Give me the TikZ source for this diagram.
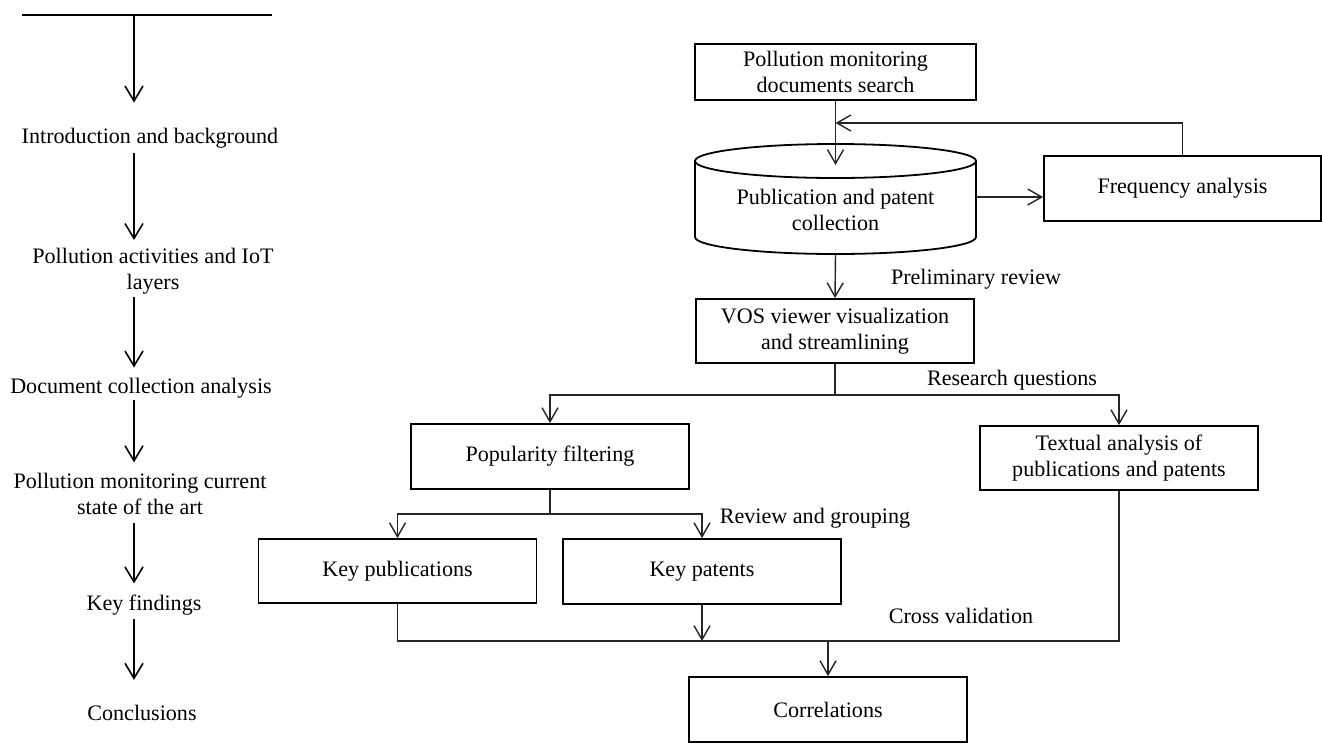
\documentclass[tikz,border=0pt]{standalone}
\usepackage{fontspec}
\setmainfont{Liberation Serif}
\usetikzlibrary{arrows.meta}
\begin{document}
\begin{tikzpicture}[x=0.5pt,y=-0.5pt,
  every node/.style={font=\fontsize{11.05pt}{13pt}\selectfont, inner sep=0pt},
  lbl/.style={align=center},
  stepbox/.style={draw, line width=0.9pt, minimum width=139pt, minimum height=32.5pt, align=center},
  conn/.style={line width=0.7pt, black!85},
  arr/.style={conn, -{Straight Barb[length=7pt,width=8pt]}},
  larr/.style={line width=0.8pt, -{Straight Barb[length=7.5pt,width=9pt]}}]
\fill[white] (0,0) rectangle (1322,745);
\useasboundingbox (0,0) rectangle (1322,745);

% ---- outline of the sections (left column) ----
\coordinate (tl) at (22,15);
\coordinate (tr) at (272,15);
\coordinate (top) at (134,15);
\coordinate (colx) at (134,0);
\draw[line width=0.8pt] (tl) -- (tr);
\node[lbl] (intro) at (150,138) {Introduction and background};
\node[lbl] (pact) at (153,271.5) {Pollution activities and IoT\\layers};
\node[lbl] (doc) at (141,388) {Document collection analysis};
\node[lbl] (pm) at (140,493.5) {Pollution monitoring current\\state of the art};
\node[lbl] (kf) at (144,605) {Key findings};
\node[lbl] (concl) at (142,713) {Conclusions};

\draw[larr, shorten >=12.5pt] (top) -- (intro.north -| colx);
\draw[larr, shorten <=2.5pt, shorten >=4pt] (intro.south -| colx) -- (pact.north -| colx);
\draw[larr, shorten <=1pt, shorten >=5pt] (pact.south -| colx) -- (doc.north -| colx);
\draw[larr, shorten <=1pt, shorten >=5pt] (doc.south -| colx) -- (pm.north -| colx);
\draw[larr, shorten <=4pt, shorten >=5.5pt] (pm.south -| colx) -- (kf.north -| colx);
\draw[larr, shorten <=1.5pt, shorten >=12.5pt] (kf.south -| colx) -- (concl.north -| colx);

% ---- methodology flow (right part) ----
\node[stepbox, minimum width=140.5pt, minimum height=28pt] (search) at (835.5,72) {Pollution monitoring\\documents search};

% collection drawn as a cylinder
\node[lbl, minimum width=140.5pt] (coll) at (835.5,210) {Publication and patent\\collection};
\coordinate (ctop) at (835.5,161);
\coordinate (cl) at (695,161);
\coordinate (cr) at (976,161);
\coordinate (cbl) at (695,237);
\coordinate (cbr) at (976,237);
\coordinate (cbot) at (835.5,254);
\coordinate (cin) at (835.5,165);
\coordinate (cout) at (976,197);
\draw[line width=0.9pt] (ctop) ellipse [x radius=70.25pt, y radius=8.5pt];
\draw[line width=0.9pt] (cl) -- (cbl) arc [start angle=180, end angle=360, x radius=70.25pt, y radius=8.5pt] -- (cr);

\node[stepbox, minimum width=138.5pt] (freq) at (1182.5,188.5) {Frequency analysis};
\node[stepbox, minimum height=32pt] (vos) at (835,331) {VOS viewer visualization\\and streamlining};
\node[stepbox] (pop) at (550,456.5) {Popularity filtering};
\node[stepbox, minimum height=32pt] (txt) at (1119,458) {Textual analysis of\\publications and patents};
\node[stepbox, minimum height=32pt] (kpub) at (397.5,571) {Key publications};
\node[stepbox] (kpat) at (702,571.5) {Key patents};
\node[stepbox] (corr) at (828,709.5) {Correlations};

% connector labels
\node (lprel) at (976,279) {Preliminary review};
\node (lres) at (1012,380) {Research questions};
\node (lrev) at (815,518) {Review and grouping};
\node (lcross) at (961,616) {Cross validation};

% connectors
\coordinate (fb) at (835.5,123);
\coordinate (b1) at (835,395);
\coordinate (b2) at (550,514);
\coordinate (b3) at (828,641);

\draw[arr] (search.south) -- (cin);
\draw[arr] (freq.north) |- (fb);
\draw[arr] (cout) -- (cout -| freq.west);
\draw[arr] (cbot) -- (vos.north);
\draw[conn] (vos.south) -- (b1);
\draw[arr] (b1) -| (pop.north);
\draw[arr] (b1) -| (txt.north);
\draw[conn] (pop.south) -- (b2);
\draw[arr] (b2) -| (kpub.north);
\draw[arr] (b2) -| (kpat.north);
\draw[conn] (kpub.south) |- (b3);
\draw[conn] (txt.south) |- (b3);
\draw[arr] (kpat.south) -- (kpat.south |- b3);
\draw[arr] (b3) -- (corr.north);
\end{tikzpicture}
\end{document}
